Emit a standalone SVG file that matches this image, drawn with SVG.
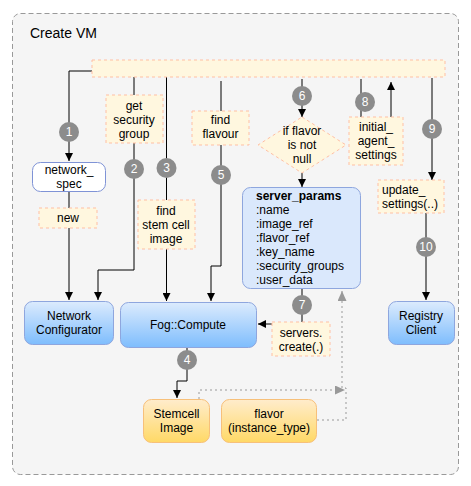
<svg xmlns="http://www.w3.org/2000/svg" width="471" height="486" viewBox="0 0 471 486">
<defs>
<linearGradient id="gBlue" x1="0" y1="0" x2="0" y2="1"><stop offset="0" stop-color="#dcebfd"/><stop offset="1" stop-color="#7ebdfd"/></linearGradient>
<linearGradient id="gOrange" x1="0" y1="0" x2="0" y2="1"><stop offset="0" stop-color="#ffeccc"/><stop offset="1" stop-color="#ffd966"/></linearGradient>
<marker id="arr" markerUnits="userSpaceOnUse" markerWidth="9" markerHeight="8" refX="8" refY="4" orient="auto"><path d="M0,0 L8,4 L0,8 z" fill="#000"/></marker>
<marker id="arrG" markerUnits="userSpaceOnUse" markerWidth="11" markerHeight="9" refX="10" refY="4.5" orient="auto"><path d="M0,0 L10,4.5 L0,9 z" fill="#999"/></marker>
</defs>
<style>
text{font-family:"Liberation Sans",Arial,sans-serif;font-size:12px;fill:#000}
.c{text-anchor:middle}
.lbl{fill:#fff7df;stroke:#ffbfa3;stroke-width:1;stroke-dasharray:3,3}
.blue{fill:url(#gBlue);stroke:#8ea6de;stroke-width:1}
.orange{fill:url(#gOrange);stroke:#f7c07a;stroke-width:1}
.ln{fill:none;stroke:#000;stroke-width:1}
.dot{fill:none;stroke:#999;stroke-width:1;stroke-dasharray:2,3}
.bd{fill:#8c8c8c}
.bt{fill:#fff;text-anchor:middle;font-size:12px}
</style>
<g id="container">
<rect x="12.5" y="13.5" width="446" height="461" rx="8" fill="#f5f5f5" stroke="#999" stroke-dasharray="5,3"/>
<text x="30" y="38" style="font-size:14px">Create VM</text>
</g>
<g id="connectors">
<path class="ln" d="M92,71 H69 V161" marker-end="url(#arr)"/>
<path class="ln" d="M69,191 V300" marker-end="url(#arr)"/>
<path class="ln" d="M134,77 V270 H98 V300" marker-end="url(#arr)"/>
<path class="ln" d="M166.5,77 V301" marker-end="url(#arr)"/>
<path class="ln" d="M221,81 V266 H211 V301" marker-end="url(#arr)"/>
<path class="ln" d="M302,79 V117" marker-end="url(#arr)"/>
<path class="ln" d="M302,173 V187" marker-end="url(#arr)"/>
<path class="ln" d="M302,289 V322"/>
<path class="ln" d="M272,324 H258" marker-end="url(#arr)"/>
<path class="ln" d="M361,79 V117"/>
<path class="ln" d="M391,117 V82" marker-end="url(#arr)"/>
<path class="ln" d="M432,78 V180" marker-end="url(#arr)"/>
<path class="ln" d="M426,213 V300" marker-end="url(#arr)"/>
<path class="ln" d="M187,347 V381 H177 V398" marker-end="url(#arr)"/>
<path class="dot" d="M199,399 V390 H345" marker-end="url(#arrG)"/>
<path class="dot" d="M317,420 H346 V388 H342 V291" marker-end="url(#arrG)"/>
</g>
<g id="top-bar"><rect class="lbl" x="92" y="60" width="353" height="17"/></g>
<g id="network_spec">
<rect x="32.5" y="162.5" width="73" height="29" rx="8" fill="#fff" stroke="#7f93d6"/>
<text class="c" x="69" y="174">network_</text><text class="c" x="69" y="188">spec</text>
</g>
<g id="lbl-new"><rect class="lbl" x="39" y="208" width="58" height="20"/><text class="c" x="68" y="222">new</text></g>
<g id="lbl-get-security-group"><rect class="lbl" x="106" y="95" width="57" height="48"/>
<text class="c" x="134" y="110">get</text><text class="c" x="134" y="124">security</text><text class="c" x="134" y="138">group</text></g>
<g id="lbl-find-stem-cell-image"><rect class="lbl" x="138" y="200" width="57" height="49"/>
<text class="c" x="166" y="215">find</text><text class="c" x="166" y="229">stem cell</text><text class="c" x="166" y="243">image</text></g>
<g id="lbl-find-flavour"><rect class="lbl" x="192" y="111" width="57" height="34"/>
<text class="c" x="220.5" y="124">find</text><text class="c" x="220.5" y="138">flavour</text></g>
<g id="decision"><polygon class="lbl" points="302,117 346,145 302,173 258,145"/>
<text class="c" x="302" y="135">if flavor</text><text class="c" x="302" y="149">is not</text><text class="c" x="302" y="163">null</text></g>
<g id="lbl-initial-agent-settings"><rect class="lbl" x="349" y="117" width="54" height="48"/>
<text class="c" x="376" y="131">initial_</text><text class="c" x="376" y="145">agent_</text><text class="c" x="376" y="159">settings</text></g>
<g id="lbl-update-settings"><rect class="lbl" x="378" y="180" width="66" height="33"/>
<text x="382" y="194">update_</text><text x="382" y="208">settings(..)</text></g>
<g id="server_params">
<rect x="242.5" y="187.5" width="118" height="101" rx="8" fill="#dae8fc" stroke="#8ea6de"/>
<text x="256" y="200" style="font-weight:bold">server_params</text>
<text x="256" y="214">:name</text><text x="256" y="228">:image_ref</text><text x="256" y="242">:flavor_ref</text>
<text x="256" y="256">:key_name</text><text x="256" y="270">:security_groups</text><text x="256" y="284">:user_data</text>
</g>
<g id="lbl-servers-create"><rect class="lbl" x="272" y="322" width="58" height="34"/>
<text class="c" x="301" y="337">servers.</text><text class="c" x="301" y="351">create(.)</text></g>
<g id="network-configurator"><rect class="blue" x="24.5" y="301.5" width="89" height="43" rx="8"/>
<text class="c" x="69" y="320">Network</text><text class="c" x="69" y="334">Configurator</text></g>
<g id="fog-compute"><rect class="blue" x="120.5" y="302.5" width="136" height="45" rx="8"/>
<text class="c" x="188" y="329">Fog::Compute</text></g>
<g id="registry-client"><rect class="blue" x="388.5" y="301.5" width="66" height="43" rx="8"/>
<text class="c" x="421" y="320">Registry</text><text class="c" x="421" y="334">Client</text></g>
<g id="stemcell-image"><rect class="orange" x="143.5" y="399.5" width="66" height="43" rx="8"/>
<text class="c" x="176.5" y="418">Stemcell</text><text class="c" x="176.5" y="432">Image</text></g>
<g id="flavor"><rect class="orange" x="221.5" y="399.5" width="95" height="43" rx="8"/>
<text class="c" x="269" y="418">flavor</text><text class="c" x="269" y="432">(instance_type)</text></g>
<g id="badges">
<circle class="bd" cx="69" cy="132" r="10"/><text class="bt" x="69" y="136">1</text>
<circle class="bd" cx="134" cy="169" r="10"/><text class="bt" x="134" y="173">2</text>
<circle class="bd" cx="166.5" cy="168" r="10"/><text class="bt" x="166.5" y="172">3</text>
<circle class="bd" cx="187" cy="360" r="10"/><text class="bt" x="187" y="364">4</text>
<circle class="bd" cx="221" cy="175" r="10"/><text class="bt" x="221" y="179">5</text>
<circle class="bd" cx="302" cy="96" r="10"/><text class="bt" x="302" y="100">6</text>
<circle class="bd" cx="302" cy="305" r="10"/><text class="bt" x="302" y="309">7</text>
<circle class="bd" cx="365" cy="102" r="10"/><text class="bt" x="365" y="106">8</text>
<circle class="bd" cx="432" cy="129" r="10"/><text class="bt" x="432" y="133">9</text>
<circle class="bd" cx="426" cy="247" r="10"/><text class="bt" x="426" y="251">10</text>
</g>
</svg>
